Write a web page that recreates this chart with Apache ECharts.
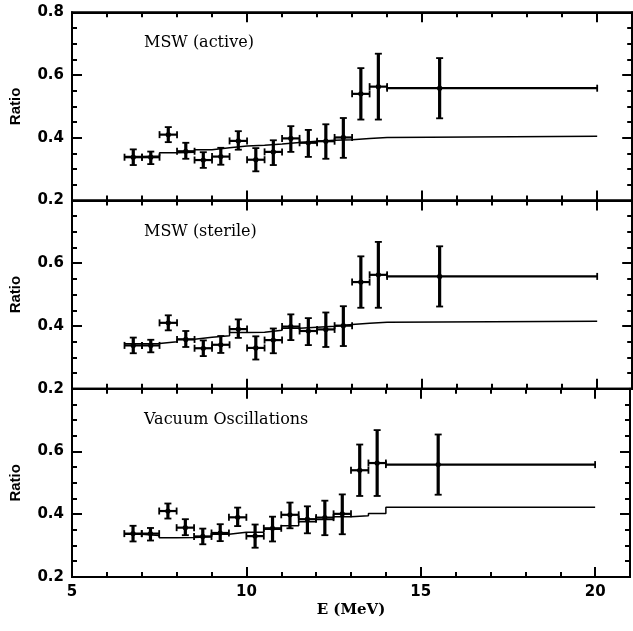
<!DOCTYPE html>
<html><head><meta charset="utf-8">
<script src="https://cdn.jsdelivr.net/npm/echarts@6/dist/echarts.min.js"></script>
<style>html,body{margin:0;padding:0;background:#fff}#c{width:633px;height:631px}</style>
</head><body><div id="c"></div>
<script>
// ---- data ----
const panelTitles = ['MSW (active)', 'MSW (sterile)', 'Vacuum Oscillations'];
const energy = [6.75, 7.25, 7.75, 8.25, 8.75, 9.25, 9.75, 10.25, 10.75, 11.25, 11.75, 12.25, 12.75, 13.25, 13.75, 15.5];
const eLow   = [6.5, 7.0, 7.5, 8.0, 8.5, 9.0, 9.5, 10.0, 10.5, 11.0, 11.5, 12.0, 12.5, 13.0, 13.5, 14.0];
const eHigh  = [7.0, 7.5, 8.0, 8.5, 9.0, 9.5, 10.0, 10.5, 11.0, 11.5, 12.0, 12.5, 13.0, 13.5, 14.0, 20.0];
const ratio  = [0.338, 0.338, 0.410, 0.357, 0.329, 0.340, 0.390, 0.330, 0.355, 0.398, 0.384, 0.389, 0.401, 0.540, 0.563, 0.558];
const ratioLow  = [0.313, 0.316, 0.386, 0.333, 0.304, 0.314, 0.362, 0.293, 0.313, 0.355, 0.339, 0.333, 0.336, 0.458, 0.458, 0.462];
const ratioHigh = [0.363, 0.356, 0.434, 0.384, 0.354, 0.368, 0.421, 0.367, 0.392, 0.437, 0.425, 0.443, 0.463, 0.622, 0.668, 0.654];
const binEdges = [6.5, 7.0, 7.5, 8.0, 8.5, 9.0, 9.5, 10.0, 10.5, 11.0, 11.5, 12.0, 12.5, 13.0, 13.5, 14.0, 20.0];
const modelActive  = [0.340, 0.342, 0.352, 0.354, 0.362, 0.368, 0.374, 0.376, 0.380, 0.385, 0.389, 0.392, 0.394, 0.398, 0.401, 0.405];
const modelSterile = [0.343, 0.344, 0.350, 0.358, 0.364, 0.369, 0.379, 0.380, 0.386, 0.393, 0.396, 0.399, 0.405, 0.409, 0.412, 0.415];
const modelVacuum  = [0.336, 0.332, 0.325, 0.326, 0.328, 0.336, 0.342, 0.342, 0.352, 0.363, 0.376, 0.383, 0.392, 0.395, 0.402, 0.422];
const xTicks = [5, 10, 15, 20];
const yTicks = [0.2, 0.4, 0.6, 0.8];

const models = [modelActive, modelSterile, modelVacuum];

const chart = echarts.init(document.getElementById('c'), null, {renderer: 'canvas'});

const L = 69.5, R = 0.8, T = 12.3, H = 188.2;
const FONT = 'Liberation Sans';
const TICKFONT = 'DejaVu Sans';

function stepData(vals) {
  const d = vals.map((v, i) => [binEdges[i], v]);
  d.push([binEdges[binEdges.length - 1], vals[vals.length - 1]]);
  return d;
}

const errData = energy.map((e, i) => [e, ratio[i], eLow[i], eHigh[i], ratioLow[i], ratioHigh[i]]);

function renderErr(params, api) {
  const x = api.value(0), y = api.value(1);
  const c = api.coord([x, y]);
  const xl = api.coord([api.value(2), y])[0];
  const xh = api.coord([api.value(3), y])[0];
  const yl = api.coord([x, api.value(4)])[1];
  const yh = api.coord([x, api.value(5)])[1];
  const k = '#000';
  return {type: 'group', children: [
    {type: 'line', shape: {x1: xl, y1: c[1], x2: xh, y2: c[1]}, style: {stroke: k, lineWidth: 2.2}},
    {type: 'line', shape: {x1: xl, y1: c[1] - 3.5, x2: xl, y2: c[1] + 3.5}, style: {stroke: k, lineWidth: 1.8}},
    {type: 'line', shape: {x1: xh, y1: c[1] - 3.5, x2: xh, y2: c[1] + 3.5}, style: {stroke: k, lineWidth: 1.8}},
    {type: 'line', shape: {x1: c[0], y1: yl, x2: c[0], y2: yh}, style: {stroke: k, lineWidth: 3.2}},
    {type: 'line', shape: {x1: c[0] - 3.5, y1: yl, x2: c[0] + 3.5, y2: yl}, style: {stroke: k, lineWidth: 1.8}},
    {type: 'line', shape: {x1: c[0] - 3.5, y1: yh, x2: c[0] + 3.5, y2: yh}, style: {stroke: k, lineWidth: 1.8}},
    {type: 'circle', shape: {cx: c[0], cy: c[1], r: 2.6}, style: {fill: k}}
  ]};
}

const grids = [], xAxes = [], yAxes = [], series = [], titles = [];
for (let p = 0; p < 3; p++) {
  grids.push({left: L, right: R, top: T + p * H, height: H, show: true, borderColor: '#000', borderWidth: 2, backgroundColor: 'transparent'});
  const tickStyle = {show: true, inside: true, length: 10, lineStyle: {color: '#000', width: 2}};
  const minorStyle = {show: true, splitNumber: 5, length: 5, lineStyle: {color: '#000', width: 2}};
  xAxes.push({type: 'value', gridIndex: p, min: 5, max: 21, interval: 5, position: 'bottom',
    axisLine: {show: true, onZero: false, lineStyle: {color: '#000', width: 2}},
    axisTick: tickStyle, minorTick: minorStyle, splitLine: {show: false},
    axisLabel: {show: p === 2, color: '#000', fontFamily: TICKFONT, fontWeight: 'bold', fontSize: 15, margin: 8,
      formatter: v => xTicks.includes(v) ? String(v) : ''},
    name: p === 2 ? 'E (MeV)' : '', nameLocation: 'middle', nameGap: 26,
    nameTextStyle: {color: '#000', fontFamily: 'DejaVu Serif', fontWeight: 'bold', fontSize: 15}});
  xAxes.push({type: 'value', gridIndex: p, min: 5, max: 21, interval: 5, position: 'top',
    axisLine: {show: true, onZero: false, lineStyle: {color: '#000', width: 2}},
    axisTick: tickStyle, minorTick: minorStyle, splitLine: {show: false}, axisLabel: {show: false}});
  const yMinor = {show: true, splitNumber: 4, length: 5, lineStyle: {color: '#000', width: 2}};
  yAxes.push({type: 'value', gridIndex: p, min: 0.2, max: 0.8, interval: 0.2, position: 'left',
    axisLine: {show: true, onZero: false, lineStyle: {color: '#000', width: 2}},
    axisTick: tickStyle, minorTick: yMinor, splitLine: {show: false},
    axisLabel: {show: true, color: '#000', fontFamily: TICKFONT, fontWeight: 'bold', fontSize: 15, margin: 8,
      formatter: v => {
        const t = yTicks.find(u => Math.abs(u - v) < 1e-6);
        if (t === undefined) return '';
        if (p > 0 && t === 0.8) return '';
        return t.toFixed(1);
      }},
    name: 'Ratio', nameLocation: 'middle', nameGap: 49, nameRotate: 90,
    nameTextStyle: {color: '#000', fontFamily: FONT, fontWeight: 'bold', fontSize: 15}});
  yAxes.push({type: 'value', gridIndex: p, min: 0.2, max: 0.8, interval: 0.2, position: 'right',
    axisLine: {show: true, onZero: false, lineStyle: {color: '#000', width: 2}},
    axisTick: tickStyle, minorTick: yMinor, splitLine: {show: false}, axisLabel: {show: false}});

  series.push({type: 'line', xAxisIndex: 2 * p, yAxisIndex: 2 * p, step: 'end', symbol: 'none',
    data: stepData(models[p]), lineStyle: {color: '#000', width: 1.5}, silent: true, animation: false, z: 2});
  series.push({type: 'custom', xAxisIndex: 2 * p, yAxisIndex: 2 * p, renderItem: renderErr,
    data: errData, silent: true, animation: false, z: 3, clip: false});

  titles.push({text: panelTitles[p], left: 139, top: T + p * H + 18,
    textStyle: {color: '#000', fontFamily: 'DejaVu Serif', fontWeight: 'normal', fontSize: 16}});
}

chart.setOption({
  backgroundColor: '#fff',
  animation: false,
  title: titles,
  grid: grids,
  xAxis: xAxes,
  yAxis: yAxes,
  series: series
});
</script></body></html>
